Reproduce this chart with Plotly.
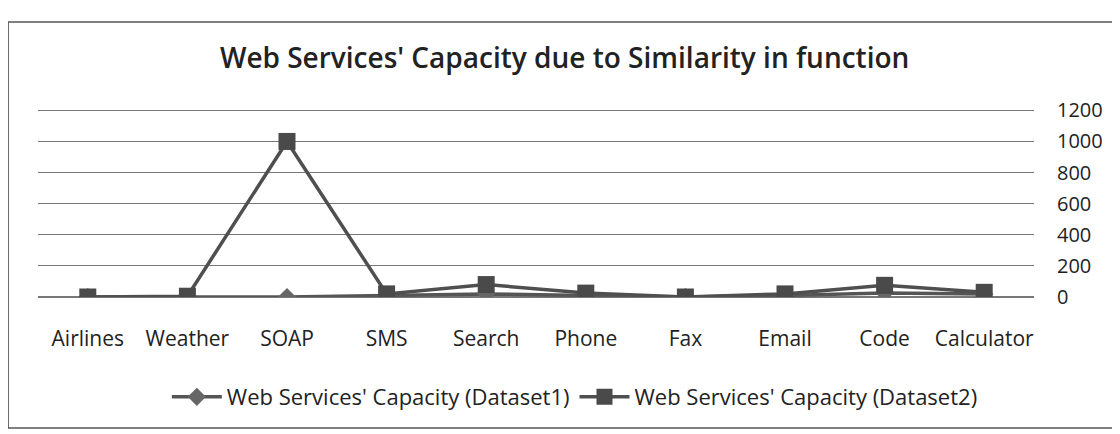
import plotly.graph_objects as go

categories = ["Airlines", "Weather", "SOAP", "SMS", "Search", "Phone", "Fax", "Email", "Code", "Calculator"]
dataset1 = [0, 0, 0, 10, 20, 10, 0, 10, 25, 20]
dataset2 = [0, 5, 1000, 20, 80, 25, 0, 20, 75, 30]
y_ticks = [0, 200, 400, 600, 800, 1000, 1200]

fig = go.Figure()
fig.add_trace(go.Scatter(
    x=categories, y=dataset1, mode="lines+markers",
    name="Web Services' Capacity (Dataset1)",
    line=dict(color="#555555", width=3.5),
    marker=dict(symbol="diamond", size=14, color="#666666"),
))
fig.add_trace(go.Scatter(
    x=categories, y=dataset2, mode="lines+markers",
    name="Web Services' Capacity (Dataset2)",
    line=dict(color="#4f4f4f", width=3.5),
    marker=dict(symbol="square", size=17, color="#4a4a4a"),
))

fig.update_layout(
    width=1120, height=434,
    margin=dict(l=30, r=94, t=100, b=145),
    paper_bgcolor="white", plot_bgcolor="white",
    font=dict(family="'Open Sans', Lato, sans-serif", color="#222222"),
    title=dict(text="Web Services' Capacity due to Similarity in function",
               x=0.497, xanchor="center", y=0.885, yanchor="middle",
               font=dict(size=28, color="#222222", weight=600)),
    showlegend=True,
    legend=dict(orientation="h", x=0.539, xanchor="center", y=-0.529, yanchor="middle",
                font=dict(size=22, color="#222222"), itemwidth=50),
    shapes=[dict(type="rect", xref="paper", yref="paper", x0=-0.030, x1=1.2, y0=-0.693, y1=1.455,
                 line=dict(color="#555555", width=1.5))],
)
fig.update_xaxes(type="category", range=[-0.5, 9.5], showgrid=False, showline=False,
                 ticks="", tickfont=dict(size=21, color="#222222"), ticklabelstandoff=27)
fig.update_yaxes(side="right", range=[0, 1215], tickvals=y_ticks, showgrid=True,
                 gridcolor="#777777", gridwidth=1, zeroline=True, zerolinecolor="#777777",
                 showline=False, ticks="", tickfont=dict(size=20, color="#222222"),
                 ticklabelstandoff=22)

fig.write_html("out.html")
